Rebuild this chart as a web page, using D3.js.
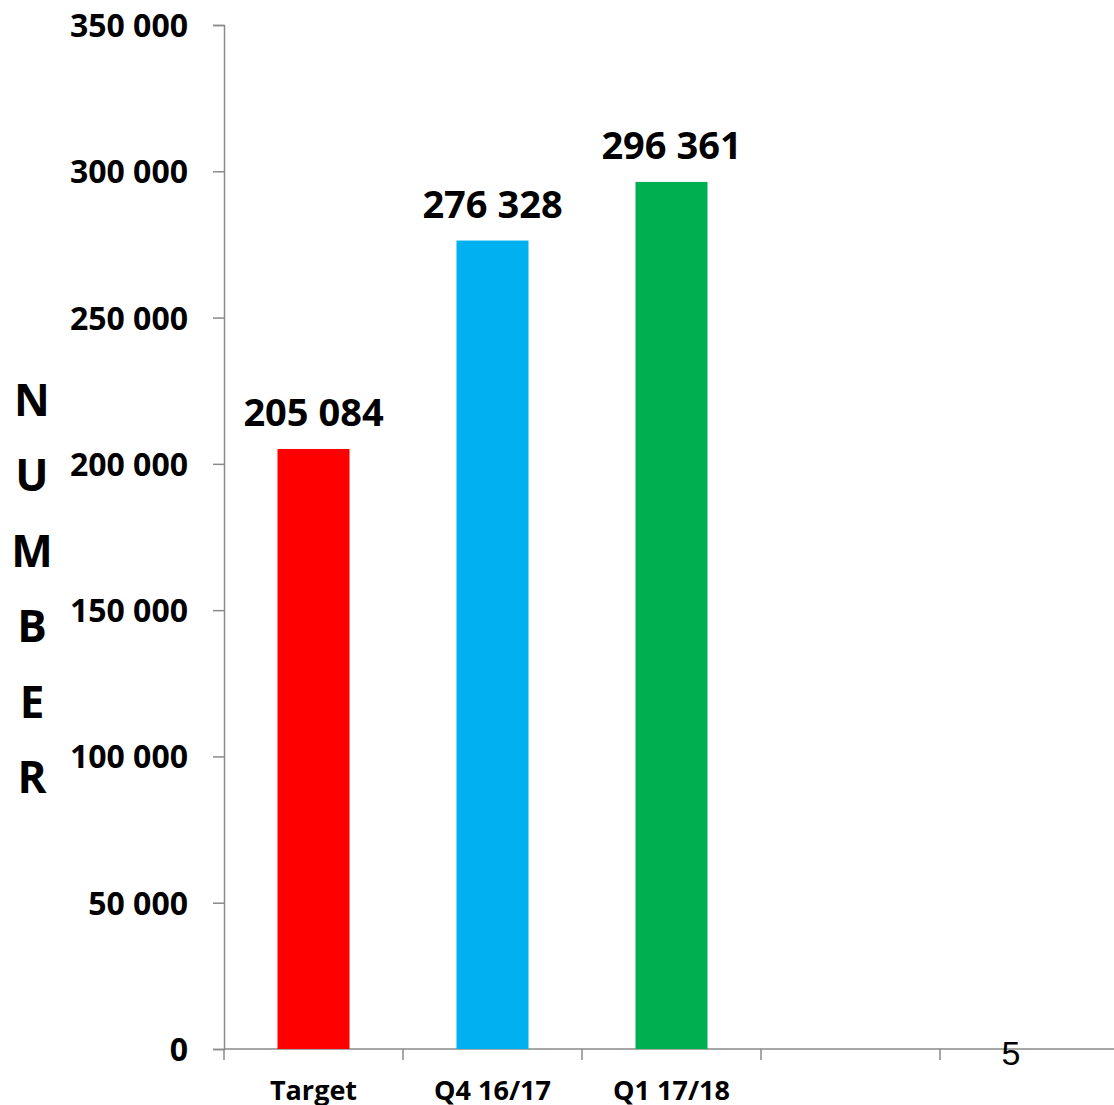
<!DOCTYPE html>
<html>
<head>
<meta charset="utf-8">
<script src="https://cdn.jsdelivr.net/npm/d3@7"></script>
<style>
  html, body { margin: 0; padding: 0; background: #fff; overflow: hidden; }
  svg { display: block; }
</style>
</head>
<body>
<svg id="chart" width="1114" height="1105"></svg>
<script>
// ---- data ----
const categories = ["Target", "Q4 16/17", "Q1 17/18", "", " "];
const values = [205084, 276328, 296361, null, null];
const barColors = ["#FF0000", "#00B0F0", "#00B050", null, null];
const yTicks = [0, 50000, 100000, 150000, 200000, 250000, 300000, 350000];
const axisTitleLetters = ["N", "U", "M", "B", "E", "R"];
const slideNumber = "5";

// ---- layout ----
const svg = d3.select("#chart");
const x0 = 224, y0 = 1049, yTop = 25, step = 179;
const axisColor = "#8a8a8a";
const font = "'Open Sans', 'DejaVu Sans', sans-serif";

const x = d3.scaleBand().domain(categories).range([x0, x0 + step * categories.length]).padding(0);
const y = d3.scaleLinear().domain([0, 350000]).range([y0, yTop]);

const loc = d3.formatLocale({ decimal: ".", thousands: "\u00a0", grouping: [3], currency: ["", ""] });
const fmt = loc.format(",");

// y axis
const yAxis = d3.axisLeft(y).tickValues(yTicks).tickSize(11).tickPadding(25).tickFormat(fmt);
const gy = svg.append("g").attr("transform", `translate(${x0},0)`).call(yAxis);
gy.select(".domain").attr("stroke", axisColor).attr("stroke-width", 1.5);
gy.selectAll(".tick line").attr("stroke", axisColor).attr("stroke-width", 1.5);
gy.selectAll(".tick text")
  .attr("fill", "#000").attr("dy", "0.36em")
  .style("font-family", font).style("font-weight", 700).style("font-size", "32px");

// x axis line + boundary ticks
svg.append("line")
  .attr("x1", x0).attr("x2", 1114).attr("y1", y0).attr("y2", y0)
  .attr("stroke", axisColor).attr("stroke-width", 1.5);
const boundaries = categories.map(c => x(c)).concat([x(categories[categories.length - 1]) + x.bandwidth()]);
svg.append("g").selectAll("line").data(boundaries).join("line")
  .attr("x1", d => d).attr("x2", d => d)
  .attr("y1", y0).attr("y2", y0 + 11)
  .attr("stroke", axisColor).attr("stroke-width", 1.5);

// x labels
svg.append("g").selectAll("text").data(categories).join("text")
  .attr("x", d => x(d) + x.bandwidth() / 2)
  .attr("y", 1100)
  .attr("text-anchor", "middle")
  .style("font-family", font).style("font-weight", 700).style("font-size", "27px")
  .text(d => d.trim());

// bars
const barW = 72;
const data = categories.map((c, i) => ({ c, v: values[i], col: barColors[i] })).filter(d => d.v != null);
svg.append("g").selectAll("rect").data(data).join("rect")
  .attr("x", d => x(d.c) + (x.bandwidth() - barW) / 2)
  .attr("width", barW)
  .attr("y", d => y(d.v))
  .attr("height", d => y(0) - y(d.v))
  .attr("fill", d => d.col);

// data labels
svg.append("g").selectAll("text").data(data).join("text")
  .attr("x", d => x(d.c) + x.bandwidth() / 2)
  .attr("y", d => y(d.v) - 23)
  .attr("text-anchor", "middle")
  .style("font-family", font).style("font-weight", 700).style("font-size", "38px")
  .text(d => fmt(d.v));

// axis title (vertical stacked letters)
svg.append("g").selectAll("text").data(axisTitleLetters).join("text")
  .attr("x", 32)
  .attr("y", (d, i) => 416 + i * 75.4)
  .attr("text-anchor", "middle")
  .style("font-family", font).style("font-weight", 700).style("font-size", "44px")
  .text(d => d);

// slide number
svg.append("text")
  .attr("x", 1011).attr("y", 1065)
  .attr("text-anchor", "middle")
  .style("font-family", "'Liberation Sans', Arial, sans-serif").style("font-size", "34px")
  .attr("fill", "#000")
  .text(slideNumber);
</script>
</body>
</html>
